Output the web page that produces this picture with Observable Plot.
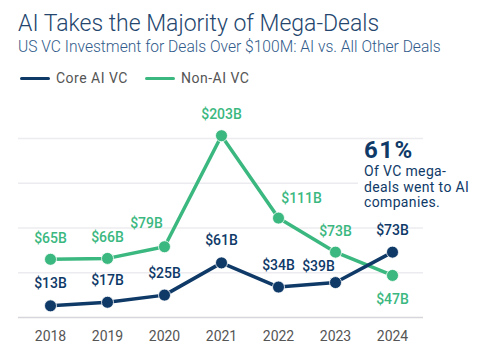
<!DOCTYPE html>
<html>
<head>
<meta charset="utf-8">
<script src="https://cdn.jsdelivr.net/npm/d3@7"></script>
<script src="https://cdn.jsdelivr.net/npm/@observablehq/plot@0.6"></script>
<style>
  html, body { margin: 0; padding: 0; background: #fff; }
  #wrap { position: relative; width: 490px; height: 364px; overflow: hidden; font-family: Roboto, sans-serif; }
  .abs { position: absolute; line-height: 1; white-space: nowrap; }
  #title { left: 18px; top: 12px; font-size: 23px; font-weight: 300; color: #24466e; }
  #subtitle { left: 18px; top: 40px; font-size: 15.6px; font-weight: 300; color: #2f5a8a; }
  .legend { top: 71px; font-size: 14px; color: #555; letter-spacing: 0.5px; }
  .sw { position: absolute; height: 3px; width: 30px; top: 77px; border-radius: 2px; }
  #plot { position: absolute; left: 0; top: 95px; }
  #note { position: absolute; left: 358px; top: 140px; width: 120px; height: 74px; background: #fff; z-index: 2; }
  #pct { left: 6px; top: -2px; font-size: 24px; font-weight: 700; color: #0f3a68; letter-spacing: 1.5px; }
  #notebody { position: absolute; left: 6px; top: 24px; font-size: 14px; line-height: 15.5px; color: #0f3a68; letter-spacing: 0.35px; white-space: nowrap; }
</style>
</head>
<body>
<div id="wrap">
  <div id="title" class="abs">AI Takes the Majority of Mega-Deals</div>
  <div id="subtitle" class="abs">US VC Investment for Deals Over $100M: AI vs. All Other Deals</div>
  <div class="sw" style="left:20px;background:#0f3a68"></div>
  <div class="abs legend" style="left:56px">Core AI VC</div>
  <div class="sw" style="left:145px;background:#3bb87f"></div>
  <div class="abs legend" style="left:181px">Non-AI VC</div>
  <div id="plot"></div>
  <div id="note">
    <div id="pct" class="abs">61%</div>
    <div id="notebody">Of VC mega-<br>deals went to AI<br>companies.</div>
  </div>
</div>
<script>
const years = ["2018", "2019", "2020", "2021", "2022", "2023", "2024"];
const coreAI = [13, 17, 25, 61, 34, 39, 73];
const nonAI = [65, 66, 79, 203, 111, 73, 47];
const gridTicks = [50, 100, 150, 200];

const NAVY = "#0f3a68";
const GREEN = "#3bb87f";

const core = years.map((y, i) => ({year: y, value: coreAI[i]}));
const non = years.map((y, i) => ({year: y, value: nonAI[i]}));
const fmt = d => `$${d.value}B`;
const labelStyle = {x: "year", y: "value", text: fmt, fontSize: 14, fontWeight: 500};

// label placement tweaks, chosen in code (not data)
const nonAbove = non.filter(d => !["2020", "2022", "2024"].includes(d.year));
const non2020 = non.filter(d => d.year === "2020");
const non2022 = non.filter(d => d.year === "2022");
const non2024 = non.filter(d => d.year === "2024");
const coreMain = core.filter(d => d.year !== "2023");
const core2023 = core.filter(d => d.year === "2023");

const chart = Plot.plot({
  width: 490,
  height: 269,
  marginLeft: 18,
  marginRight: 67,
  marginTop: 25,
  marginBottom: 47,
  style: {fontFamily: "Roboto, sans-serif", fontSize: "14px", background: "transparent"},
  x: {type: "point", domain: years, padding: 0.5, label: null},
  y: {domain: [0, 220], axis: null},
  marks: [
    Plot.ruleY(gridTicks, {stroke: "#ececf0", strokeWidth: 1.5}),
    Plot.ruleY([0], {stroke: "#d6d6dc", strokeWidth: 1.5}),
    Plot.axisX({tickSize: 0, tickPadding: 14, fontSize: 14, fill: "#555", label: null}),
    Plot.line(non, {x: "year", y: "value", stroke: GREEN, strokeWidth: 3.5}),
    Plot.line(core, {x: "year", y: "value", stroke: NAVY, strokeWidth: 3.5}),
    Plot.dot(non, {x: "year", y: "value", r: 6, fill: GREEN, stroke: "white", strokeWidth: 0.8}),
    Plot.dot(core, {x: "year", y: "value", r: 6, fill: NAVY, stroke: "white", strokeWidth: 0.8}),
    Plot.text(nonAbove, {...labelStyle, dy: -21, fill: GREEN}),
    Plot.text(non2020, {...labelStyle, dx: -18, dy: -23, fill: GREEN}),
    Plot.text(non2022, {...labelStyle, dx: 23, dy: -20, fill: GREEN}),
    Plot.text(non2024, {...labelStyle, dy: 24, fill: GREEN}),
    Plot.text(coreMain, {...labelStyle, dy: -22, fill: NAVY}),
    Plot.text(core2023, {...labelStyle, dx: -17, dy: -16, fill: NAVY})
  ]
});
document.getElementById("plot").appendChild(chart);
</script>
</body>
</html>
